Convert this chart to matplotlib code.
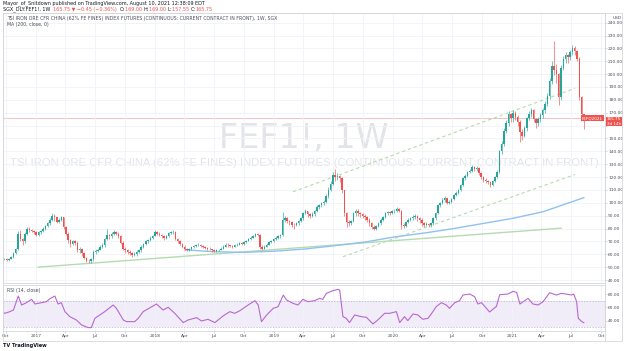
import numpy as np
import pandas as pd
import matplotlib
matplotlib.use('Agg')
import matplotlib.pyplot as plt
import matplotlib.dates as mdates
from matplotlib.patches import Rectangle

# SGX iron ore FEF1!, weekly candles from 2016-09-19 to 2021-08-09
first_open = 55.5
close_2016 = [56, 56.5, 55.5, 56.5, 58, 61, 64, 76, 72, 70, 76, 80, 79, 78, 77]
high_2016 = [57, 57.5, 57, 57.5, 59, 62, 65, 78, 79, 73, 77, 81, 81, 80, 79]
low_2016 = [55, 55.5, 54.5, 55, 56, 57.5, 60, 63, 70, 67, 69, 75, 77, 77, 76]

close_2017 = [75, 77, 78, 80, 82, 84, 87, 90, 89, 85, 87, 89, 81, 76, 71, 68, 70, 69, 63, 64,
              61, 57, 55, 54.5, 56, 62, 62.5, 63.5, 66, 67, 72, 75, 74, 76, 77.5, 76, 74, 69, 64, 63,
              62, 61, 59.5, 60, 62, 63, 66, 68, 70, 71, 72.5, 74]
high_2017 = [78, 78, 79, 81, 83, 85, 88, 92, 91, 89, 88, 90, 89, 82, 77, 72, 71, 71, 70, 66,
             65, 62, 58, 56.5, 57, 63, 64, 65, 67, 69, 73, 80, 76, 77, 79, 78, 77, 75, 70, 66,
             64, 63, 62, 61.5, 63, 64, 67, 69, 71, 72, 74, 75]
low_2017 = [74, 74, 76, 77, 79, 81, 83, 86, 86, 84, 84, 86, 80, 75, 69, 66, 67, 67, 62, 61,
            59, 56, 54, 53, 53.5, 55, 60, 61.5, 63, 65, 66, 71, 72, 73, 75, 75, 73, 68, 63, 61,
            60, 59.5, 58, 58.5, 59, 61, 62, 65, 67, 69, 70, 72]

close_2018 = [77.5, 76, 75, 74, 72.5, 74, 76.5, 77, 77.5, 72, 70, 68, 66, 64.5, 63.5, 64, 65.5, 66.5, 67, 67.5,
              66.5, 66, 65, 64.5, 64, 63, 62.5, 63, 63.5, 64.5, 66, 67.5, 67, 66.5, 66, 67, 67.5, 68.5, 68, 69.5,
              70.5, 72, 73, 74, 75.5, 75, 66, 64.5, 66, 67.5, 69.5, 70, 72]
high_2018 = [78.5, 78, 77, 76, 75, 75, 77.5, 78, 78.5, 78, 73, 71, 69, 67, 65, 65, 66.5, 67.5, 68, 68.5,
             68, 67, 66.5, 66, 65.5, 64.5, 64, 64, 64.5, 65.5, 67, 68.5, 68.5, 67.5, 67, 68, 68.5, 69.5, 69.5, 70.5,
             71.5, 73, 74, 75, 76.5, 76.5, 75.5, 67, 67, 68.5, 70.5, 71, 73]
low_2018 = [76, 75, 74, 73, 71.5, 72, 73.5, 76, 76, 71, 69, 67, 65, 63.5, 62.5, 62.5, 63.5, 65, 66, 66.5,
            65.5, 65, 64, 63.5, 63, 62, 61.5, 62, 62.5, 63, 64, 65.5, 66, 65.5, 65, 65.5, 66.5, 67, 67, 67.5,
            69, 70, 71.5, 72.5, 73.5, 74, 64.5, 63.5, 64, 65.5, 67, 69, 69.5]

close_2019 = [73, 74, 75, 87, 88, 86, 85, 83, 82.5, 84, 85.5, 88, 92, 93.5, 91, 90, 91.5, 93.5, 97, 98,
              99.5, 101, 105, 110, 115, 122, 120, 121, 119, 110, 92, 85, 84, 86, 92, 94, 92, 91, 90, 89,
              87, 84, 81.5, 80, 82, 84, 87, 89, 92, 93, 92, 93.5]
high_2019 = [74, 75, 76, 93, 90, 89, 87, 86, 84, 85, 86.5, 89, 93, 95, 94, 92, 92.5, 94.5, 98, 99,
             100.5, 102, 107, 112, 117, 124, 126, 123, 122, 120, 110, 93, 87, 87, 93, 95, 95, 93, 92, 91,
             90, 88, 85, 82.5, 83, 85, 88, 90, 93, 94, 94, 94.5]
low_2019 = [71, 72, 73, 74, 85, 84, 83, 81, 80, 82, 83, 85, 87, 91, 89, 88, 89, 90, 93, 95,
            97, 98, 100, 104, 109, 114, 117, 118, 116, 108, 90, 81, 82, 83, 85, 90, 90, 89, 88, 87,
            85, 82, 80, 78.5, 79, 81, 83, 86, 88, 90.5, 90.5, 91]

close_2020 = [94, 95, 94, 83, 82, 85, 87, 88, 89, 89.5, 88, 87, 84, 83, 83.5, 82.5, 84, 88, 92, 98,
              100, 102, 103.5, 100, 101, 103, 106, 108, 110, 114, 119, 121, 124, 125, 128, 126, 127, 123, 120, 118,
              117, 116, 114, 117, 120, 124, 140, 146, 156, 162, 169, 166]
high_2020 = [95, 96.5, 96, 94.5, 84.5, 86, 88, 89, 90.5, 91, 90.5, 89, 88, 85, 85, 84.5, 85, 89, 93, 99,
             101, 103.5, 105, 104, 102.5, 104, 107, 109.5, 111, 115, 120, 122.5, 125, 126.5, 129.5, 129, 128.5, 128, 124, 121,
             119.5, 118, 117, 118, 121, 125.5, 141, 148, 158, 164, 171, 170]
low_2020 = [92, 93, 93, 80, 80.5, 81, 84.5, 86, 87, 87.5, 86, 84, 82, 81.5, 82, 81, 81.5, 83, 87, 91,
            97, 99, 101, 99, 99, 100, 102, 105, 107, 109, 113, 118, 120, 123, 124, 124.5, 125, 122, 118.5, 116.5,
            115.5, 114.5, 112.5, 113, 116, 119, 123, 138, 144, 154, 160, 163]

close_2021 = [170, 167, 163, 155, 152, 158, 166, 169, 172, 165, 162, 165, 168, 172, 177, 183, 195, 206, 203, 200,
              182, 205, 212, 215, 213, 217, 220, 218, 212, 182, 169, 165.75]
high_2021 = [172, 171, 168, 164, 157, 160, 167, 171, 174, 173, 166, 167, 170, 174, 179, 185, 197, 210, 226, 208,
             201, 207, 214, 217, 216, 219, 223, 222, 219, 213, 183, 169]
low_2021 = [163, 164, 160, 147.5, 149, 151, 156, 164, 167, 163, 158, 160, 163, 166, 170, 175, 181, 192, 199, 193,
            176, 180, 203, 209, 209, 211, 215, 215, 210, 180, 166, 157.55]

# MA (200, close)
ma_dates = ['2018-04-02', '2018-07-02', '2018-10-01', '2019-01-07', '2019-04-01', '2019-07-01',
            '2019-10-07', '2020-01-06', '2020-04-06', '2020-07-06', '2020-10-05', '2021-01-04',
            '2021-04-05', '2021-06-07', '2021-08-09']
ma_vals = [63.5, 62.0, 61.5, 62.5, 64.0, 66.5, 69.5, 73.5, 76.5, 80.0, 84.0, 88.0, 93.0, 98.5, 104.0]

# drawn lines: solid trend line and dashed channel
trend_dates = ['2017-01-08', '2021-05-31']
trend_vals = [50.0, 80.3]
chan_up_dates = ['2019-03-01', '2021-07-13']
chan_up_vals = [108.6, 189.0]
chan_lo_dates = ['2019-08-01', '2021-07-13']
chan_lo_vals = [58.1, 122.0]

# RSI (14, close)
rsi_dates = ['2016-09-19', '2016-09-28', '2016-10-13', '2016-10-24', '2016-11-08', '2016-11-18', '2016-12-03',
             '2016-12-19', '2016-12-29', '2017-01-18', '2017-02-02', '2017-02-13', '2017-02-28', '2017-03-10',
             '2017-03-20', '2017-03-31', '2017-04-15', '2017-05-05', '2017-05-21', '2017-06-10', '2017-06-20',
             '2017-07-01', '2017-07-16', '2017-07-31', '2017-08-26', '2017-09-05', '2017-09-26', '2017-10-06',
             '2017-10-31', '2017-11-11', '2017-11-26', '2018-01-06', '2018-01-26', '2018-02-11', '2018-03-03',
             '2018-03-29', '2018-04-13', '2018-05-09', '2018-05-24', '2018-06-13', '2018-07-04', '2018-07-29',
             '2018-08-19', '2018-09-03', '2018-09-19', '2018-10-14', '2018-11-04', '2018-11-14', '2018-11-24',
             '2018-12-10', '2018-12-30', '2019-01-14', '2019-01-30', '2019-02-09', '2019-03-01', '2019-03-16',
             '2019-03-31', '2019-04-16', '2019-05-06', '2019-05-21', '2019-05-31', '2019-06-11', '2019-07-01',
             '2019-07-16', '2019-07-22', '2019-08-01', '2019-08-11', '2019-08-21', '2019-09-06', '2019-09-26',
             '2019-10-12', '2019-11-01', '2019-11-16', '2019-12-07', '2019-12-22', '2020-01-12', '2020-01-22',
             '2020-02-06', '2020-02-16', '2020-03-03', '2020-03-18', '2020-04-02', '2020-04-18', '2020-04-28',
             '2020-05-13', '2020-05-29', '2020-06-13', '2020-06-23', '2020-07-09', '2020-07-24', '2020-08-03',
             '2020-08-24', '2020-09-08', '2020-09-18', '2020-09-29', '2020-10-24', '2020-11-14', '2020-11-24',
             '2020-12-19', '2021-01-04', '2021-01-15', '2021-01-25', '2021-02-04', '2021-02-19', '2021-03-06',
             '2021-03-22', '2021-04-06', '2021-04-26', '2021-05-17', '2021-06-01', '2021-06-16', '2021-07-02',
             '2021-07-09', '2021-07-18', '2021-07-23', '2021-08-03', '2021-08-09']
rsi_vals = [53.5, 51, 53.5, 56, 77, 63.5, 67, 72, 65, 67, 68.5, 73, 77, 65,
            67, 53.5, 46, 41, 33.5, 29.5, 29.5, 43.5, 48.5, 53.5, 63.5, 58.5, 41, 38.5,
            38.5, 43.5, 53.5, 65, 56, 60, 51, 37, 41, 44.5, 39.5, 42, 37, 47,
            53.5, 51, 55, 63.5, 70, 63.5, 38.5, 48.5, 58.5, 61, 78.5, 71, 66, 63.5,
            72, 68.5, 70, 73.5, 72, 81, 85, 87, 86, 46, 43.5, 37, 48.5, 46,
            45, 35, 41, 51, 51, 53.5, 37, 46, 40, 50, 48.5, 42, 43.5, 50,
            61, 67, 63.5, 58.5, 67, 70, 78.5, 80, 76, 65, 67, 53, 61.5, 79,
            80, 84, 82.5, 65, 68.5, 73.5, 65, 63.5, 68.5, 82, 78.5, 81, 80, 78.5,
            80, 68.5, 43.5, 38.5, 37]

W, H = 624, 351
UP, DOWN = '#26a69a', '#ef5350'
GRID = '#f0f3fa'
TXT = '#4a4e59'
INK = '#131722'


def fx(px):
    return px / W


def fy(py):
    return 1 - py / H


closes = np.array(close_2016 + close_2017 + close_2018 + close_2019 + close_2020 + close_2021)
highs = np.array(high_2016 + high_2017 + high_2018 + high_2019 + high_2020 + high_2021)
lows = np.array(low_2016 + low_2017 + low_2018 + low_2019 + low_2020 + low_2021)
opens = np.concatenate([[first_open], closes[:-1]])
highs = np.maximum(highs, np.maximum(opens, closes))
lows = np.minimum(lows, np.minimum(opens, closes))
weeks = pd.date_range('2016-09-19', periods=len(closes), freq='7D')
xd = mdates.date2num(weeks)
cols = np.where(closes >= opens, UP, DOWN)

fig = plt.figure(figsize=(W / 100, H / 100), dpi=100)
fig.patch.set_facecolor('white')

ax = fig.add_axes([fx(3), fy(283), fx(605 - 3), (283 - 13) / H])
rx = fig.add_axes([fx(3), fy(331), fx(605 - 3), (331 - 285) / H], sharex=ax)

x0 = mdates.date2num(pd.Timestamp('2016-09-22'))
x1 = mdates.date2num(pd.Timestamp('2021-10-13'))

# quarter ticks
qt = pd.date_range('2016-10-01', '2021-10-01', freq='QS')
qlabels = [str(d.year) if d.month == 1 else d.strftime('%b') for d in qt]

for a in (ax, rx):
    a.set_facecolor('white')
    for s in a.spines.values():
        s.set_color('#d6d8de')
        s.set_linewidth(0.6)
    a.set_xticks(mdates.date2num(qt))
    a.grid(True, axis='x', color=GRID, linewidth=0.6, zorder=0)
    a.tick_params(axis='both', length=1.2, width=0.4, color='#b2b5be', labelsize=3.2,
                  labelcolor=TXT, pad=1.0)
    a.yaxis.tick_right()

# main panel
ax.set_xlim(x0, x1)
ax.set_ylim(37.7, 247.5)
pticks = np.arange(40, 241, 10)
ax.set_yticks(pticks)
ax.set_yticklabels(['' if v == 160 else f'{v:.2f}' for v in pticks])
ax.grid(True, axis='y', color=GRID, linewidth=0.6, zorder=0)
ax.tick_params(axis='x', labelbottom=False, length=0)

ax.text(0.5, 0.537, 'FEF1!, 1W', transform=ax.transAxes, ha='center', va='center',
        fontsize=24, color='#e2e4e8', zorder=1)
ax.text(0.5, 0.444, 'TSI IRON ORE CFR CHINA (62% FE FINES) INDEX FUTURES (CONTINUOUS: CURRENT CONTRACT IN FRONT)',
        transform=ax.transAxes, ha='center', va='center', fontsize=8.1, family='Liberation Sans',
        color='#e2e4e8', zorder=1, clip_on=True)

ax.axhline(closes[-1], color='#f5b5b4', linewidth=0.6, zorder=1)
ax.plot(mdates.date2num(pd.to_datetime(trend_dates)), trend_vals, color='#b5dcae', linewidth=1, zorder=2)
ax.plot(mdates.date2num(pd.to_datetime(chan_up_dates)), chan_up_vals, color='#b5dcae', linewidth=0.8,
        dashes=(3, 2.5), zorder=2)
ax.plot(mdates.date2num(pd.to_datetime(chan_lo_dates)), chan_lo_vals, color='#b5dcae', linewidth=0.8,
        dashes=(3, 2.5), zorder=2)
ax.plot(mdates.date2num(pd.to_datetime(ma_dates)), ma_vals, color='#90c1f3', linewidth=1, zorder=2)

ax.vlines(xd, lows, highs, colors=cols, linewidth=0.45, zorder=3)
body = np.maximum(np.abs(closes - opens), 0.4)
ax.bar(xd, body, bottom=np.minimum(opens, closes), width=4.6, color=cols, linewidth=0, zorder=4)

ax.text(0.006, 0.988, 'TSI IRON ORE CFR CHINA (62% FE FINES) INDEX FUTURES (CONTINUOUS: CURRENT CONTRACT IN FRONT), 1W, SGX',
        transform=ax.transAxes, ha='left', va='top', fontsize=3.3, color=TXT)
ax.text(0.006, 0.965, 'MA (200, close, 0)', transform=ax.transAxes, ha='left', va='top', fontsize=3.3, color=TXT)
ax.text(1.012, 0.99, 'USD', transform=ax.transAxes, ha='left', va='top', fontsize=3.2, color=TXT)

# last price labels
ax.text(1.003, closes[-1] + 0.6, '165.75\n3d 14h', transform=ax.get_yaxis_transform(), ha='left', va='top',
        fontsize=3.0, color='white', linespacing=1.05,
        bbox=dict(boxstyle='square,pad=0.2', fc=DOWN, ec='none'), zorder=6, clip_on=False)
ax.text(0.996, closes[-1], 'FEFQ2021', transform=ax.get_yaxis_transform(), ha='right', va='center',
        fontsize=3.0, color='white',
        bbox=dict(boxstyle='square,pad=0.25', fc=DOWN, ec='none'), zorder=6, clip_on=False)

# RSI panel
rx.set_ylim(24.4, 93.6)
rx.set_yticks([40, 60, 80])
rx.set_yticklabels(['40.00', '60.00', '80.00'])
rx.axhspan(30, 70, color='#7e57c2', alpha=0.11, linewidth=0, zorder=1)
for lvl in (30, 70):
    rx.axhline(lvl, color='#b9a8d6', linewidth=0.5, dashes=(2, 2), zorder=2)
rx.plot(mdates.date2num(pd.to_datetime(rsi_dates)), rsi_vals, color='#b868d0', linewidth=0.8, zorder=3)
rx.set_xticklabels(qlabels)
rx.text(0.006, 0.93, 'RSI (14, close)', transform=rx.transAxes, ha='left', va='top', fontsize=3.3, color=TXT)

# outer frame and price-scale separator
fig.add_artist(Rectangle((fx(3), fy(341)), fx(622 - 3), (341 - 13) / H, transform=fig.transFigure,
                         fill=False, ec='#d6d8de', lw=0.6))
fig.add_artist(plt.Line2D([fx(605), fx(605)], [fy(341), fy(13)], transform=fig.transFigure,
                          color='#d6d8de', lw=0.6))

# header
fig.text(fx(3), fy(3.5), 'Mayor_of_Snitdown published on TradingView.com, August 10, 2021 12:38:09 EDT',
         ha='left', va='center', fontsize=3.5, color=INK)
anchor = fig.text(fx(3), fy(9.5), 'SGX_DLY:FEF1!, 1W  ', ha='left', va='center', fontsize=3.5, color=INK)
parts = [('165.75 \u25bc \u22120.45 (\u22120.36%)  ', DOWN), ('O:', INK), ('169.00 ', DOWN),
         ('H:', INK), ('169.00 ', DOWN), ('L:', INK), ('157.55 ', DOWN),
         ('C:', INK), ('165.75', DOWN)]
for s, c in parts:
    anchor = ax.annotate(s, xy=(1, 0), xycoords=anchor, xytext=(0, 0), textcoords='offset points',
                         ha='left', va='bottom', fontsize=3.5, color=c, annotation_clip=False)

fig.text(fx(3), fy(346), 'TV TradingView', ha='left', va='center', fontsize=3.6, color=INK,
         fontweight='bold')

fig.savefig('out.png', dpi=100)
